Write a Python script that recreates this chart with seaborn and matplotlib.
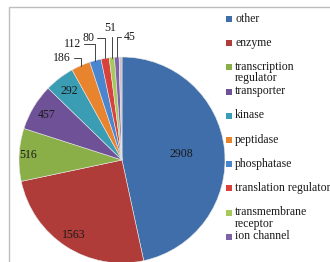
import numpy as np
import matplotlib
matplotlib.use("Agg")
import matplotlib.pyplot as plt
import seaborn as sns

categories = ["other", "enzyme", "transcription\nregulator", "transporter", "kinase",
              "peptidase", "phosphatase", "translation regulator",
              "transmembrane\nreceptor", "ion channel"]
counts = [2908, 1563, 516, 457, 292, 186, 112, 80, 51, 45]
# thin unlabeled sliver next to "other" at the top
extra_count = 28

colors = ["#3F6EAA", "#B03C3A", "#8AAE48", "#6E5196", "#3B9DB4",
          "#E8842E", "#4A86CF", "#D8413C", "#A6C95A", "#7F63A8"]
extra_color = "#CDBFC6"

sns.set_style("white")
plt.rcParams["font.family"] = ["Liberation Serif", "DejaVu Serif"]

W, H = 330, 262
fig = plt.figure(figsize=(W / 100, H / 100), dpi=100)

# light frame of the original chart area
fig.add_artist(plt.Rectangle((9 / W, -0.1), 1.2, 1 - 7 / H + 0.1,
                             transform=fig.transFigure, fill=False,
                             ec="#BDBDBD", lw=1.0))

cx, cy, r = 122, 160, 103
ax = fig.add_axes([(cx - r) / W, (H - cy - r) / H, 2 * r / W, 2 * r / H])

values = counts + [extra_count]
wedges, _ = ax.pie(values, colors=colors + [extra_color], startangle=90,
                   counterclock=False, radius=1.0,
                   wedgeprops=dict(linewidth=0.4, edgecolor="#E8E8E8"))
ax.set_xlim(-1, 1)
ax.set_ylim(-1, 1)
ax.set_aspect("equal")

# inside labels for large slices: radius factor per slice
inside_r = {0: 0.58, 1: 0.87, 2: 0.91, 3: 0.85, 4: 0.84}
# outside labels for small slices: (text x, text y) in data units
outside_xy = {5: (-0.50, 0.99), 6: (-0.40, 1.13), 7: (-0.27, 1.18),
              8: (-0.06, 1.28), 9: (0.02, 1.19)}

for i, (w, v) in enumerate(zip(wedges[:len(counts)], counts)):
    ang = np.deg2rad((w.theta1 + w.theta2) / 2)
    if i in inside_r:
        rr = inside_r[i]
        ax.text(rr * np.cos(ang), rr * np.sin(ang), str(v), ha="center",
                va="center", fontsize=8.5, color="#1A1A1A")
    else:
        tx, ty = outside_xy[i]
        px, py = 1.0 * np.cos(ang), 1.0 * np.sin(ang)
        ha = "left" if i == 9 else "right"
        ax.annotate(str(v), xy=(px, py), xytext=(tx, ty), ha=ha, va="center",
                    fontsize=8.5, color="#1A1A1A", annotation_clip=False,
                    arrowprops=dict(arrowstyle="-", color="#444444", lw=0.7,
                                    shrinkA=0, shrinkB=0,
                                    connectionstyle="angle,angleA=0,angleB=90,rad=0"))

# Excel-style legend: equal slots, multi-line entries flow downward
leg_x, leg_top, leg_step = 229, 19, 24.2
for i, (lab, col) in enumerate(zip(categories, colors)):
    y = leg_top + i * leg_step
    fig.patches.append(plt.Rectangle(((leg_x - 3) / W, 1 - (y + 3) / H), 6 / W, 6 / H,
                                     transform=fig.transFigure, fc=col, ec="none"))
    fig.text((leg_x + 6) / W, 1 - (y - 6.5) / H, lab, ha="left", va="top",
             fontsize=8.5, color="#1A1A1A", linespacing=0.95)

fig.savefig("out.png", dpi=100)
